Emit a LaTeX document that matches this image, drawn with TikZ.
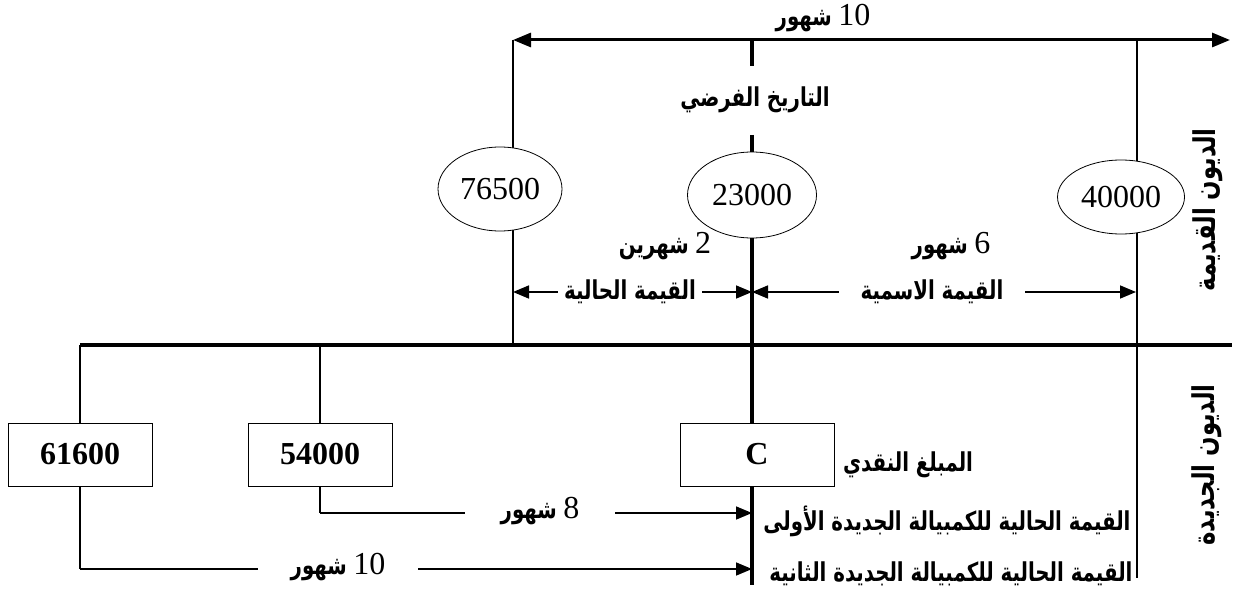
\documentclass[tikz,border=0pt]{standalone}
\usepackage{fontspec}
\setmainfont{Liberation Serif}
\newfontfamily\arabicfont[Script=Arabic,FakeStretch=0.76]{DejaVu Sans}
\TeXXeTstate=1
\usetikzlibrary{arrows.meta,shapes.geometric}
\newcommand{\artxt}[1]{{\arabicfont\bfseries\beginR #1\endR}}
\newcommand{\num}[1]{{\fontsize{16}{18}\selectfont #1}}

\begin{document}
\begin{tikzpicture}[x=0.5pt, y=-0.5pt,
  debt/.style={draw, ellipse, fill=white, minimum width=62pt,
               minimum height=42pt, inner sep=0pt,
               font=\fontsize{16}{18}\selectfont},
  newdebt/.style={draw, fill=white, minimum width=72pt,
                  minimum height=31.5pt, inner sep=0pt,
                  font=\fontsize{16}{18}\selectfont\bfseries},
  lbl/.style={inner sep=1pt, font=\fontsize{13}{15}\selectfont},
  gaplbl/.style={lbl, inner xsep=0pt},
  sidelbl/.style={lbl, rotate=90, font=\fontsize{15}{17}\selectfont},
  fineline/.style={line width=0.8pt},
  heavyline/.style={line width=2pt},
  arr/.style={-{Triangle[length=8pt,width=6.5pt]}}
]
  \useasboundingbox (0,0) rectangle (1234,588);

  \coordinate (topL) at (513,40);
  \coordinate (topR) at (1230,40);
  \coordinate (topM) at (752,40);
  \coordinate (topN) at (1137,40);
  \coordinate (tickEnd) at (752,66);
  \coordinate (midTop) at (752,135);
  \coordinate (midEnd) at (752,585);
  \coordinate (baseL) at (80,345);
  \coordinate (baseR) at (1232,345);
  \coordinate (base1) at (513,345);
  \coordinate (base2) at (320,345);
  \coordinate (rightEnd) at (1137,578);
  \coordinate (pvL) at (513,292);
  \coordinate (pvR) at (752,292);
  \coordinate (nvR) at (1136,292);
  \coordinate (firstTip) at (752,513);
  \coordinate (secondTip) at (752,569);
  \coordinate (firstBend) at (320,513);
  \coordinate (secondBend) at (80,569);

  \draw[line width=1.5pt, {Triangle[length=9pt,width=7pt]}-{Triangle[length=9pt,width=7pt]}] (topL) -- (topR);
  \draw[heavyline] (topM) -- (tickEnd);
  \draw[heavyline] (midTop) -- (midEnd);
  \draw[heavyline] (baseL) -- (baseR);
  \draw[fineline] (topL) -- (base1);
  \draw[fineline] (topN) -- (rightEnd);
  \draw[fineline] (baseL) -- (secondBend);
  \draw[fineline] (base2) -- (firstBend);

  \node[debt] (d1) at (500,189) {76500};
  \node[debt, minimum width=64.5pt, minimum height=43pt] (d2) at (752,195) {23000};
  \node[debt, minimum width=63.5pt, minimum height=37pt] (d3) at (1121,197) {40000};

  \node[newdebt] (b1) at (80,454.5) {61600};
  \node[newdebt] (b2) at (320,454.5) {54000};
  \node[newdebt, minimum width=77pt] (cash) at (757,454.5) {C};

  \node[lbl] (tenTop) at (823,18) {\artxt{شهور}~\num{10}};
  \node[lbl] (fixDate) at (755,100) {\artxt{التاريخ الفرضي}};
  \node[lbl] (twoM) at (665,246) {\artxt{شهرين}~\num{2}};
  \node[lbl] (sixM) at (951,246) {\artxt{شهور}~\num{6}};
  \node[gaplbl, minimum width=72pt] (pv) at (630,292) {\artxt{القيمة الحالية}};
  \node[gaplbl, minimum width=93pt] (nv) at (932,292) {\artxt{القيمة الاسمية}};

  \draw[arr, fineline] (pv.west) -- (pvL);
  \draw[arr, fineline] (pv.east) -- (pvR);
  \draw[arr, fineline] (nv.west) -- (pvR);
  \draw[arr, fineline] (nv.east) -- (nvR);

  \node[lbl] (cashLbl) at (908,465) {\artxt{المبلغ النقدي}};
  \node[lbl, anchor=east] (firstLbl) at (1133,521) {\artxt{القيمة الحالية للكمبيالة الجديدة الأولى}};
  \node[lbl, anchor=east] (secondLbl) at (1135,574) {\artxt{القيمة الحالية للكمبيالة الجديدة الثانية}};

  \node[gaplbl, minimum width=75pt] (eightM) at (540,511) {\artxt{شهور}~\num{8}};
  \node[gaplbl, minimum width=80pt] (tenM) at (338,567) {\artxt{شهور}~\num{10}};
  \draw[fineline] (firstBend) -- (eightM.west |- firstBend);
  \draw[arr, fineline] (eightM.east |- firstTip) -- (firstTip);
  \draw[fineline] (secondBend) -- (tenM.west |- secondBend);
  \draw[arr, fineline] (tenM.east |- secondTip) -- (secondTip);

  \node[sidelbl] (oldDebts) at (1208,210) {\artxt{الديون القديمة}};
  \node[sidelbl] (newDebts) at (1207,465) {\artxt{الديون الجديدة}};
\end{tikzpicture}
\end{document}
